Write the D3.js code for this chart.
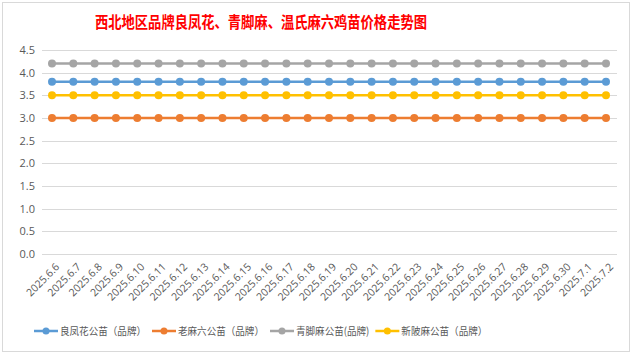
<!DOCTYPE html>
<html><head><meta charset="utf-8">
<script src="https://cdn.jsdelivr.net/npm/d3@7"></script>
<style>body{margin:0;background:#fff;} text{font-family:"Noto Sans CJK SC","Noto Sans",sans-serif;}</style>
</head><body><svg id="c" width="635" height="355"></svg>
<script>
const title = "西北地区品牌良凤花、青脚麻、温氏麻六鸡苗价格走势图";
const dates = ["2025.6.6","2025.6.7","2025.6.8","2025.6.9","2025.6.10","2025.6.11","2025.6.12","2025.6.13","2025.6.14","2025.6.15","2025.6.16","2025.6.17","2025.6.18","2025.6.19","2025.6.20","2025.6.21","2025.6.22","2025.6.23","2025.6.24","2025.6.25","2025.6.26","2025.6.27","2025.6.28","2025.6.29","2025.6.30","2025.7.1","2025.7.2"];
const seriesNames = ["良凤花公苗（品牌）","老麻六公苗（品牌）","青脚麻公苗(品牌)","新陂麻公苗（品牌）"];
const liangfeng = [3.8,3.8,3.8,3.8,3.8,3.8,3.8,3.8,3.8,3.8,3.8,3.8,3.8,3.8,3.8,3.8,3.8,3.8,3.8,3.8,3.8,3.8,3.8,3.8,3.8,3.8,3.8];
const lamaliu = [3.0,3.0,3.0,3.0,3.0,3.0,3.0,3.0,3.0,3.0,3.0,3.0,3.0,3.0,3.0,3.0,3.0,3.0,3.0,3.0,3.0,3.0,3.0,3.0,3.0,3.0,3.0];
const qingjiao = [4.2,4.2,4.2,4.2,4.2,4.2,4.2,4.2,4.2,4.2,4.2,4.2,4.2,4.2,4.2,4.2,4.2,4.2,4.2,4.2,4.2,4.2,4.2,4.2,4.2,4.2,4.2];
const xinpi = [3.5,3.5,3.5,3.5,3.5,3.5,3.5,3.5,3.5,3.5,3.5,3.5,3.5,3.5,3.5,3.5,3.5,3.5,3.5,3.5,3.5,3.5,3.5,3.5,3.5,3.5,3.5];
const yTicks = [0,0.5,1,1.5,2,2.5,3,3.5,4,4.5];
const colors = ["#5B9BD5","#ED7D31","#A5A5A5","#FFC000"];
const seriesData = [liangfeng, lamaliu, qingjiao, xinpi];

const svg = d3.select("#c");
svg.append("rect").attr("x",2.5).attr("y",2.5).attr("width",627).attr("height",349)
  .attr("fill","#fff").attr("stroke","#D9D9D9").attr("stroke-width",1);

const x = d3.scalePoint().domain(dates).range([52,606]);
const y = d3.scaleLinear().domain([0,4.5]).range([254,50]);

svg.append("g").selectAll("line").data(yTicks).join("line")
  .attr("x1",42).attr("x2",617)
  .attr("y1",d=>Math.round(y(d))+0.5).attr("y2",d=>Math.round(y(d))+0.5)
  .attr("stroke","#D9D9D9").attr("stroke-width",1);

const yAxis = d3.axisLeft(y).tickValues(yTicks).tickFormat(d3.format(".1f")).tickSize(0).tickPadding(0);
const ya = svg.append("g").attr("transform","translate(35,0)").call(yAxis);
ya.select(".domain").remove();
ya.selectAll("text").attr("fill","#595959").attr("font-size","11px").style("font-family","'Open Sans','Noto Sans',sans-serif");

const xAxis = d3.axisBottom(x).tickSize(0).tickPadding(0);
const xa = svg.append("g").attr("transform","translate(0,262)").call(xAxis);
xa.select(".domain").remove();
xa.selectAll("text").attr("fill","#595959").attr("font-size","10.5px")
  .style("font-family","'Open Sans','Noto Sans',sans-serif")
  .attr("text-anchor","end").attr("dy","0.35em").attr("y",0).attr("x",0)
  .attr("transform","translate(5,3) rotate(-45)");

const line = d3.line().x((d,i)=>x(dates[i])).y(d=>y(d));
seriesData.forEach((s,k)=>{
  const g = svg.append("g");
  g.append("path").datum(s).attr("d",line).attr("fill","none")
    .attr("stroke",colors[k]).attr("stroke-width",2.5);
  g.selectAll("circle").data(s).join("circle")
    .attr("cx",(d,i)=>x(dates[i])).attr("cy",d=>y(d)).attr("r",4)
    .attr("fill",colors[k]);
});

svg.append("text").attr("x",95).attr("y",28).attr("fill","#FF0000")
  .attr("font-size","16px").attr("font-weight","bold")
  .attr("textLength",332).attr("lengthAdjust","spacingAndGlyphs").text(title);

let lx = 34;
const ly = 331;
seriesNames.forEach((n,k)=>{
  const g = svg.append("g");
  g.append("line").attr("x1",lx).attr("x2",lx+24).attr("y1",ly).attr("y2",ly)
    .attr("stroke",colors[k]).attr("stroke-width",2.5);
  g.append("circle").attr("cx",lx+12).attr("cy",ly).attr("r",3.5).attr("fill",colors[k]);
  const t = g.append("text").attr("x",lx+26).attr("y",ly+4).attr("fill","#595959")
    .attr("font-size","10.5px").text(n);
  const w = t.node().getComputedTextLength() * 0.91;
  t.attr("textLength", w).attr("lengthAdjust","spacingAndGlyphs");
  lx += 26 + w + 6;
});
</script></body></html>
